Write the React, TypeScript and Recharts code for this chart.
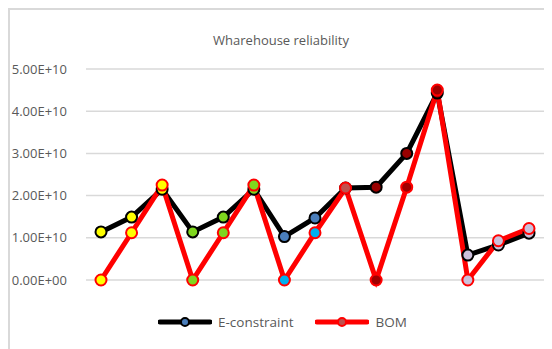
import { LineChart, Line, XAxis, YAxis, CartesianGrid } from 'recharts';

const categories = ['1', '2', '3', '4', '5', '6', '7', '8', '9', '10', '11', '12', '13', '14', '15'];
const eConstraint = [1.14e10, 1.49e10, 2.15e10, 1.14e10, 1.49e10, 2.15e10, 1.03e10, 1.47e10, 2.18e10, 2.2e10, 3.0e10, 4.43e10, 0.59e10, 0.83e10, 1.11e10];
const bom = [0, 1.12e10, 2.25e10, 0, 1.12e10, 2.25e10, 0, 1.12e10, 2.18e10, 0, 2.2e10, 4.5e10, 0, 0.93e10, 1.22e10];
const yTicks = [0, 1e10, 2e10, 3e10, 4e10, 5e10];

const eFills = ['#ffff00', '#ffff00', '#ffff00', '#7fd61e', '#7fd61e', '#7fd61e', '#4a7ebb', '#4a7ebb', '#c0504d', '#990000', '#990000', '#990000', '#ccc0da', '#ccc0da', '#ccc0da'];
const bomFills = ['#ffff00', '#ffff00', '#ffff00', '#7fd61e', '#7fd61e', '#7fd61e', '#00b0f0', '#00b0f0', '#c0504d', '#a00000', '#a00000', '#a00000', '#ccc0da', '#ccc0da', '#ccc0da'];

const data = categories.map((c, i) => ({ cat: c, econ: eConstraint[i], bom: bom[i] }));

const FONT = '"Open Sans", sans-serif';
const TEXT = '#595959';

const sci = (v: number) => {
    const [m, e] = v.toExponential(2).split('e');
    const n = parseInt(e, 10);
    return `${m}E${n < 0 ? '-' : '+'}${String(Math.abs(n)).padStart(2, '0')}`;
};

const makeDot = (fills: string[], stroke: string) => (props: any) => {
    const { cx, cy, index } = props;
    return <circle key={`d-${index}`} cx={cx} cy={cy} r={5.5} fill={fills[index]} stroke={stroke} strokeWidth={2} />;
};

const LegendItem = ({ color, marker, label, gap }: { color: string; marker: string; label: string; gap: number }) => (
    <div style={{ display: 'flex', alignItems: 'center', marginRight: gap }}>
        <svg width={54} height={12} style={{ marginRight: 6 }}>
            <line x1={2} y1={6} x2={52} y2={6} stroke={color} strokeWidth={5} strokeLinecap="round" />
            <circle cx={27} cy={6} r={4} fill={marker} stroke={color} strokeWidth={2} />
        </svg>
        <span>{label}</span>
    </div>
);

export default function App() {
    return (
        <div
            style={{
                position: 'relative',
                width: 542,
                height: 339,
                borderTop: '2px solid #d9d9d9',
                borderLeft: '2px solid #d9d9d9',
                background: '#fff',
                fontFamily: FONT,
            }}
        >
            <div
                style={{
                    position: 'absolute',
                    top: 21,
                    left: 0,
                    width: 542,
                    textAlign: 'center',
                    fontSize: 13,
                    color: TEXT,
                }}
            >
                Wharehouse reliability
            </div>
            <LineChart width={542} height={339} data={data} margin={{ top: 59, right: 8, left: 0, bottom: 69 }}>
                <CartesianGrid vertical={false} stroke="#d9d9d9" strokeWidth={1.5} />
                <XAxis dataKey="cat" hide padding={{ left: 15, right: 15 }} />
                <YAxis
                    width={76}
                    domain={[0, 5e10]}
                    ticks={yTicks}
                    tickFormatter={sci}
                    axisLine={false}
                    tickLine={false}
                    tickMargin={13}
                    tick={{ fill: TEXT, fontSize: 13, fontFamily: FONT }}
                />
                <Line
                    dataKey="econ"
                    stroke="#000"
                    strokeWidth={5}
                    dot={makeDot(eFills, '#000')}
                    isAnimationActive={false}
                />
                <Line
                    dataKey="bom"
                    stroke="#ff0000"
                    strokeWidth={5}
                    dot={makeDot(bomFills, '#ff0000')}
                    isAnimationActive={false}
                />
            </LineChart>
            <div
                style={{
                    position: 'absolute',
                    top: 303,
                    left: 148,
                    display: 'flex',
                    fontSize: 13.5,
                    color: TEXT,
                }}
            >
                <LegendItem color="#000" marker="#4a7ebb" label="E-constraint" gap={22} />
                <LegendItem color="#ff0000" marker="#c0504d" label="BOM" gap={0} />
            </div>
        </div>
    );
}
